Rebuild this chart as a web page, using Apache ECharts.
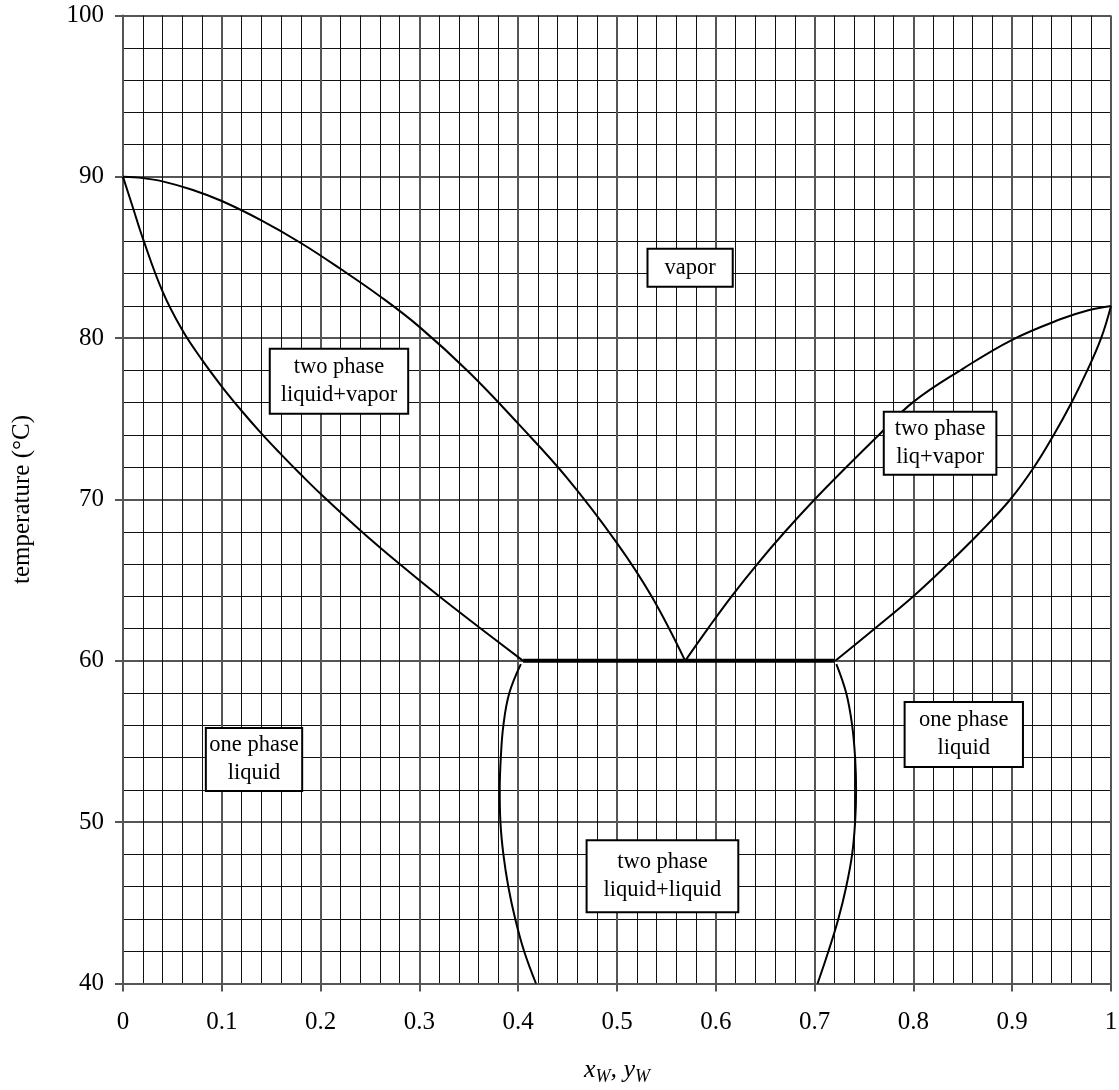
<!DOCTYPE html>
<html>
<head>
<meta charset="utf-8">
<script src="https://cdn.jsdelivr.net/npm/echarts@6/dist/echarts.min.js"></script>
<style>
  html, body { margin: 0; padding: 0; background: #fff; }
  #chart { width: 1119px; height: 1090px; }
</style>
</head>
<body>
<div id="chart"></div>
<script>
// phase diagram data: [x or y, temperature]
const dewLeft = [
  [0, 90], [0.02, 89.92], [0.04, 89.72], [0.07, 89.2], [0.1, 88.5], [0.14, 87.3],
  [0.18, 85.9], [0.22, 84.3], [0.26, 82.6], [0.3, 80.7], [0.35, 77.9], [0.4, 74.7],
  [0.45, 71.3], [0.5, 67.3], [0.535, 64.0], [0.569, 60]
]
const bubbleLeft = [
  [0, 90], [0.01, 88.1], [0.02, 86.2], [0.04, 82.9], [0.06, 80.5], [0.08, 78.65],
  [0.1, 77.0], [0.12, 75.5], [0.14, 74.1], [0.16, 72.8], [0.18, 71.55], [0.2, 70.35],
  [0.24, 68.1], [0.28, 66.0], [0.32, 64.0], [0.36, 62.1], [0.405, 60]
]
const dewRight = [
  [0.569, 60], [0.592, 62], [0.616, 64], [0.642, 66], [0.67, 68], [0.7, 70],
  [0.732, 72], [0.765, 74], [0.8, 76.05], [0.85, 78.1], [0.9, 79.9], [0.95, 81.2],
  [0.978, 81.75], [1, 82]
]
const bubbleRight = [
  [0.721, 60], [0.761, 62], [0.8, 64], [0.835, 66], [0.868, 68], [0.898, 70],
  [0.922, 72], [0.942, 74], [0.96, 76], [0.976, 78], [0.99, 80], [1, 82]
]
const llLeft = [
  [0.4027, 59.8], [0.391, 58], [0.385, 56], [0.3824, 54], [0.3813, 52], [0.382, 50],
  [0.385, 48], [0.39, 46], [0.397, 44], [0.406, 42], [0.418, 40]
]
const llRight = [
  [0.722, 59.8], [0.732, 58], [0.738, 56], [0.741, 54], [0.742, 52], [0.741, 50],
  [0.738, 48], [0.732, 46], [0.724, 44], [0.714, 42], [0.703, 40]
]
const threePhase = [[0.405, 60], [0.72, 60]]

// region labels: [x, temperature, text]
const regionLabels = [
  [0.574, 84.37, 'vapor'],
  [0.2186, 77.33, 'two phase\nliquid+vapor'],
  [0.827, 73.48, 'two phase\nliq+vapor'],
  [0.1326, 53.88, 'one phase\nliquid'],
  [0.851, 55.43, 'one phase\nliquid'],
  [0.546, 46.65, 'two phase\nliquid+liquid']
]

const FONT = "'Liberation Serif', 'Times New Roman', serif"
const MAJOR = '#555'
const MINOR = '#111'

// box padding per label [vertical, horizontal]
const labelPads = [[4, 16], [3.5, 10], [2.5, 10], [2.5, 2.5], [3.5, 13.5], [7, 16]]

const curve = (data, width) => ({
  type: 'line',
  data: data,
  smooth: 0.4,
  symbol: 'none',
  silent: true,
  z: 3,
  lineStyle: { color: '#000', width: width }
})

const chart = echarts.init(document.getElementById('chart'))
chart.setOption({
  animation: false,
  backgroundColor: '#fff',
  grid: { left: 123, right: 8, top: 15.5, bottom: 106.5, outerBoundsMode: 'none' },
  xAxis: {
    type: 'value',
    min: 0,
    max: 1,
    interval: 0.1,
    name: '{i|x}{s|W}{i|, y}{s|W}',
    nameLocation: 'middle',
    nameGap: 71,
    nameTextStyle: {
      rich: {
        i: { fontFamily: FONT, fontStyle: 'italic', fontSize: 26, lineHeight: 32, color: '#000' },
        s: { fontFamily: FONT, fontStyle: 'italic', fontSize: 18, lineHeight: 18, verticalAlign: 'bottom', color: '#000' }
      }
    },
    axisLine: { show: true, lineStyle: { color: MAJOR, width: 2 } },
    axisTick: { show: true, length: 8, lineStyle: { color: MAJOR, width: 2 } },
    axisLabel: { color: '#000', fontFamily: FONT, fontSize: 25, margin: 26 },
    splitLine: { show: true, lineStyle: { color: MAJOR, width: 2 } },
    minorTick: { show: false, splitNumber: 5 },
    minorSplitLine: { show: true, lineStyle: { color: MINOR, width: 1 } }
  },
  yAxis: {
    type: 'value',
    min: 40,
    max: 100,
    interval: 10,
    name: 'temperature (°C)',
    nameLocation: 'middle',
    nameGap: 88,
    nameTextStyle: { color: '#000', fontFamily: FONT, fontSize: 25 },
    axisLine: { show: true, lineStyle: { color: MAJOR, width: 2 } },
    axisTick: { show: true, length: 8, lineStyle: { color: MAJOR, width: 2 } },
    axisLabel: { color: '#000', fontFamily: FONT, fontSize: 25, margin: 19, padding: [4, 0, 0, 0] },
    splitLine: { show: true, lineStyle: { color: MAJOR, width: 2 } },
    minorTick: { show: false, splitNumber: 5 },
    minorSplitLine: { show: true, lineStyle: { color: MINOR, width: 1 } }
  },
  series: [
    curve(dewLeft, 2),
    curve(bubbleLeft, 2),
    curve(dewRight, 2),
    curve(bubbleRight, 2),
    curve(llLeft, 2),
    curve(llRight, 2),
    curve(threePhase, 4),
    {
      type: 'scatter',
      silent: true,
      z: 10,
      symbolSize: 1,
      itemStyle: { color: 'rgba(0,0,0,0)', opacity: 1 },
      data: regionLabels.map((r, i) => ({
        value: [r[0], r[1]],
        name: r[2],
        label: { padding: labelPads[i] }
      })),
      label: {
        show: true,
        position: 'inside',
        formatter: p => p.name,
        color: '#000',
        fontFamily: FONT,
        fontSize: 22.5,
        lineHeight: 28,
        align: 'center',
        backgroundColor: '#fff',
        borderColor: '#000',
        borderWidth: 2,
        textBorderWidth: 0
      }
    }
  ]
})
</script>
</body>
</html>
